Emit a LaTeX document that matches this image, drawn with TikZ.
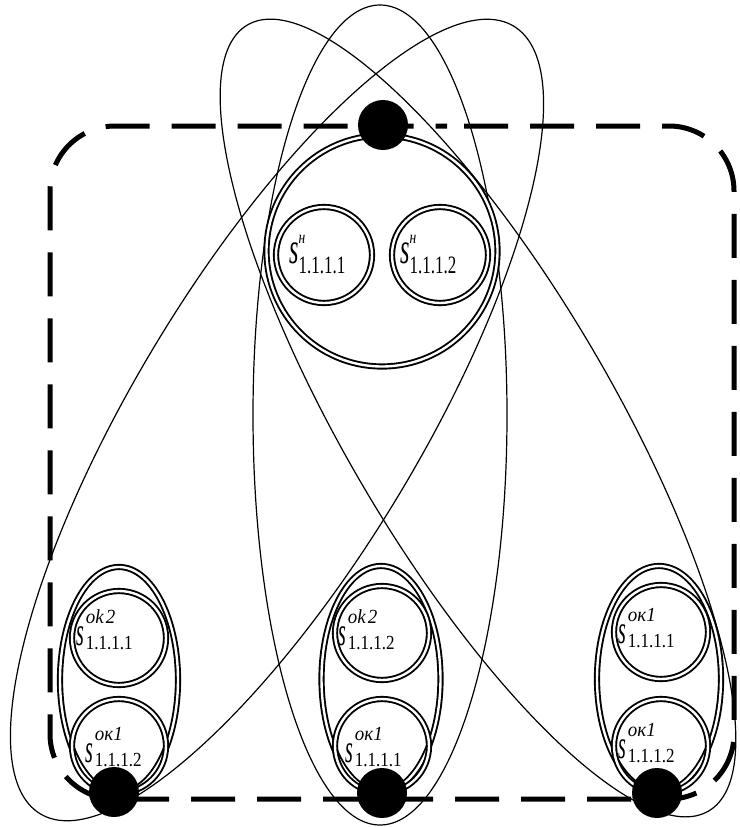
\documentclass[tikz,border=0pt]{standalone}
\usepackage{fontspec}
\setmainfont{Liberation Serif}
\usepackage{graphicx}
\usetikzlibrary{shapes.geometric}
\newcommand{\toplab}[1]{%
 \scalebox{0.55}[1]{\fontsize{44}{44}\selectfont\itshape s}%
 \rlap{\raisebox{20pt}{\scalebox{0.75}[1]{\fontsize{18}{18}\selectfont\itshape н}}}%
 \raisebox{-10pt}{\scalebox{0.68}[1]{\fontsize{25}{25}\selectfont #1}}}
\newcommand{\botlab}[2]{%
 \scalebox{0.5}[1]{\fontsize{40}{40}\selectfont\itshape s}\hspace{2pt}%
 \rlap{\raisebox{22pt}{\scalebox{0.95}[1]{\fontsize{20}{20}\selectfont\itshape #1}}}%
 \raisebox{-4pt}{\scalebox{0.85}[1]{\fontsize{20}{20}\selectfont #2}}}
\tikzset{
 ring/.style={draw=black, line width=1.9pt, double=white, double distance=2.4pt, circle, inner sep=0pt},
 ringell/.style={draw=black, line width=1.9pt, double=white, double distance=2.4pt, ellipse, inner sep=0pt},
 thinline/.style={draw=black, line width=1.2pt},
 dotnode/.style={circle, fill=black, inner sep=0pt, minimum size=50pt},
 lab/.style={anchor=base west, inner sep=0pt},
 frame/.style={draw=black, line width=5pt, dash pattern=on 44pt off 22pt, dash phase=49pt, rounded corners=65pt}
}
\begin{document}
\begin{tikzpicture}[x=1pt,y=-1pt]
\useasboundingbox (0,0) rectangle (739,827);
% dashed frame
\draw[frame] (382,126) -- (734,126) -- (734,799) -- (50,799) -- (50,126) -- cycle;
% large thin ellipses
\draw[thinline, rotate around={59:(277,420)}] (277,420) ellipse [x radius=459.5pt, y radius=143pt];
\draw[thinline, rotate around={120.4:(478,418)}] (478,418) ellipse [x radius=455.7pt, y radius=133.6pt];
\draw[thinline] (380,415) ellipse [x radius=127pt, y radius=410pt];
% top group
\node[ring, minimum size=231pt] (big) at (382,251) {};
\node[ring, minimum size=96pt] (c1) at (324,255) {};
\node[ring, minimum size=96pt] (c2) at (440,255) {};
\node[lab] (l1) at (289,263) {\toplab{1.1.1.1}};
\node[lab] (l2) at (400,263) {\toplab{1.1.1.2}};
% bottom groups
\node[ringell, minimum width=118pt, minimum height=226pt] (eL) at (119,680) {};
\node[ring, minimum size=94pt] (cL1) at (119,638) {};
\node[ring, minimum size=94pt] (cL2) at (119,746) {};
\node[lab] (lL1) at (76,645) {\botlab{ok\hspace{2pt}2}{1.1.1.1}};
\node[lab] (lL2) at (85,762) {\botlab{ок1}{1.1.1.2}};
\node[ringell, minimum width=119pt, minimum height=226pt] (eM) at (381,679) {};
\node[ring, minimum size=94pt] (cM1) at (382,633) {};
\node[ring, minimum size=94pt] (cM2) at (382,746) {};
\node[lab] (lM1) at (338,645) {\botlab{ok\hspace{2pt}2}{1.1.1.2}};
\node[lab] (lM2) at (345,762) {\botlab{ок1}{1.1.1.1}};
\node[ringell, minimum width=124pt, minimum height=226pt] (eR) at (659,679) {};
\node[ring, minimum size=94pt] (cR1) at (661,632) {};
\node[ring, minimum size=94pt] (cR2) at (661,746) {};
\node[lab] (lR1) at (618,643) {\botlab{ок1}{1.1.1.1}};
\node[lab] (lR2) at (618,758) {\botlab{ок1}{1.1.1.2}};
% dots
\node[dotnode] (dT) at (383,125) {};
\node[dotnode] (dL) at (114,792) {};
\node[dotnode] (dM) at (382,793) {};
\node[dotnode] (dR) at (657,793) {};
\end{tikzpicture}
\end{document}
